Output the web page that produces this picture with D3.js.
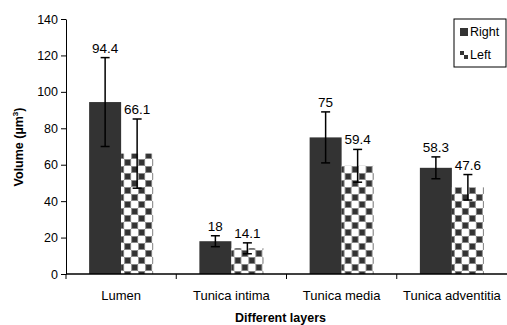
<!DOCTYPE html>
<html>
<head>
<meta charset="utf-8">
<script src="https://cdn.jsdelivr.net/npm/d3@7"></script>
<style>
body { margin: 0; background: #fff; }
svg { font-family: "Liberation Sans", Arial, sans-serif; }
</style>
</head>
<body>
<svg id="chart" width="507" height="325"></svg>
<script>
var layers = ['Lumen', 'Tunica intima', 'Tunica media', 'Tunica adventitia']
var sides = ['Right', 'Left']
var rightVals = [94.4, 18, 75, 58.3]
var leftVals = [66.1, 14.1, 59.4, 47.6]
var rightErr = [24.4, 3, 14, 6]
var leftErr = [19, 3, 9, 7]
var yTicks = [0, 20, 40, 60, 80, 100, 120, 140]

var svg = d3.select('#chart'),
    margin = {top: 19, right: 0, bottom: 51, left: 66},
    width = 507 - margin.left - margin.right,
    height = 325 - margin.top - margin.bottom,
    g = svg.append('g').attr('transform', 'translate(' + margin.left + ',' + margin.top + ')');

// checker pattern for "Left"
var defs = svg.append('defs')
var pat = defs.append('pattern')
    .attr('id', 'checker')
    .attr('patternUnits', 'userSpaceOnUse')
    .attr('width', 14).attr('height', 14)
pat.append('rect').attr('width', 14).attr('height', 14).attr('fill', '#fff')
pat.append('rect').attr('x', 7.5).attr('y', 0.5).attr('width', 6).attr('height', 6)
    .attr('fill', '#333').attr('stroke', '#888').attr('stroke-width', 1)
pat.append('rect').attr('x', 0.5).attr('y', 7.5).attr('width', 6).attr('height', 6)
    .attr('fill', '#333').attr('stroke', '#888').attr('stroke-width', 1)

var smallPat = defs.append('pattern')
    .attr('id', 'checkerSmall')
    .attr('patternUnits', 'userSpaceOnUse')
    .attr('width', 8).attr('height', 8)
smallPat.append('rect').attr('width', 8).attr('height', 8).attr('fill', '#fff')
smallPat.append('rect').attr('width', 4).attr('height', 4).attr('fill', '#333')
smallPat.append('rect').attr('x', 4).attr('y', 4).attr('width', 4).attr('height', 4).attr('fill', '#333')

var x0 = d3.scaleBand().domain(layers).range([0, width]).paddingInner(0).paddingOuter(0)
var x1 = d3.scaleBand().domain(sides).range([0, 64]) // two adjacent bars
var y = d3.scaleLinear().domain([0, 140]).range([height, 0])

var data = layers.map(function(l, i) {
    return [
        {layer: l, side: 'Right', value: rightVals[i], err: rightErr[i]},
        {layer: l, side: 'Left', value: leftVals[i], err: leftErr[i]}
    ]
})

var groups = g.selectAll('.grp')
    .data(data)
    .enter().append('g')
    .attr('class', 'grp')
    .attr('transform', function(d) { return 'translate(' + (x0(d[0].layer) + x0.bandwidth() / 2 - 32) + ',0)'; })

groups.selectAll('rect')
    .data(function(d) { return d; })
    .enter().append('rect')
    .attr('x', function(d) { return x1(d.side); })
    .attr('y', function(d) { return y(d.value); })
    .attr('width', x1.bandwidth())
    .attr('height', function(d) { return height - y(d.value); })
    .attr('fill', function(d) { return d.side == 'Right' ? '#333333' : 'url(#checker)'; })

// error bars
var eb = groups.selectAll('.err')
    .data(function(d) { return d; })
    .enter().append('g')
    .attr('class', 'err')
    .attr('stroke', '#000').attr('stroke-width', 1.5)
eb.append('line')
    .attr('x1', function(d) { return x1(d.side) + x1.bandwidth() / 2; })
    .attr('x2', function(d) { return x1(d.side) + x1.bandwidth() / 2; })
    .attr('y1', function(d) { return y(d.value + d.err); })
    .attr('y2', function(d) { return y(d.value - d.err); })
eb.selectAll('.cap')
    .data(function(d) { return [d.value + d.err, d.value - d.err].map(function(v) { return {side: d.side, v: v}; }); })
    .enter().append('line')
    .attr('x1', function(d) { return x1(d.side) + x1.bandwidth() / 2 - 4.5; })
    .attr('x2', function(d) { return x1(d.side) + x1.bandwidth() / 2 + 4.5; })
    .attr('y1', function(d) { return y(d.v); })
    .attr('y2', function(d) { return y(d.v); })

// value labels
groups.selectAll('.val')
    .data(function(d) { return d; })
    .enter().append('text')
    .attr('class', 'val')
    .attr('x', function(d) { return x1(d.side) + x1.bandwidth() / 2; })
    .attr('y', function(d) { return y(d.value + d.err) - 5; })
    .attr('text-anchor', 'middle')
    .style('font-size', '13.5px')
    .text(function(d) { return d.value; })

// axes
var yAxis = g.append('g')
    .call(d3.axisLeft(y).tickValues(yTicks).tickSize(5).tickSizeOuter(0))
yAxis.selectAll('text').style('font-size', '12.5px').attr('fill', '#000').attr('x', -8)
yAxis.select('.domain').attr('stroke', '#000')
yAxis.selectAll('.tick line').attr('stroke', '#000')

var xAxis = g.append('g')
    .attr('transform', 'translate(0,' + height + ')')
xAxis.append('line').attr('x1', 0).attr('x2', width).attr('stroke', '#000').attr('stroke-width', 1.5)
xAxis.selectAll('.xt')
    .data(layers)
    .enter().append('line')
    .attr('x1', function(d) { return x0(d); })
    .attr('x2', function(d) { return x0(d); })
    .attr('y1', 0).attr('y2', 5)
    .attr('stroke', '#000')
xAxis.selectAll('.xl')
    .data(layers)
    .enter().append('text')
    .attr('x', function(d) { return x0(d) + x0.bandwidth() / 2; })
    .attr('y', 25.5)
    .attr('text-anchor', 'middle')
    .style('font-size', '13px')
    .text(function(d) { return d; })

// axis titles
svg.append('text')
    .attr('x', margin.left + width / 2 - 6)
    .attr('y', 322)
    .attr('text-anchor', 'middle')
    .style('font-size', '12.5px').style('font-weight', 'bold')
    .text('Different layers')

var yt = svg.append('text')
    .attr('transform', 'translate(23,147) rotate(-90)')
    .attr('text-anchor', 'middle')
    .style('font-size', '12.5px').style('font-weight', 'bold')
yt.append('tspan').text('Volume (µm')
yt.append('tspan').attr('dy', -5).style('font-size', '8px').text('3')
yt.append('tspan').attr('dy', 5).text(')')

// legend
var lg = svg.append('g').attr('transform', 'translate(454,19)')
lg.append('rect').attr('width', 52).attr('height', 48)
    .attr('fill', '#fff').attr('stroke', '#000').attr('stroke-width', 1)
var li = lg.selectAll('.li')
    .data(sides)
    .enter().append('g')
    .attr('transform', function(d, i) { return 'translate(6,' + (9 + i * 23) + ')'; })
li.append('rect').attr('width', 8).attr('height', 8)
    .attr('fill', function(d) { return d == 'Right' ? '#333333' : 'url(#checkerSmall)'; })
li.append('text').attr('x', 10).attr('y', 8)
    .style('font-size', '12.5px')
    .text(function(d) { return d; })
</script>
</body>
</html>
